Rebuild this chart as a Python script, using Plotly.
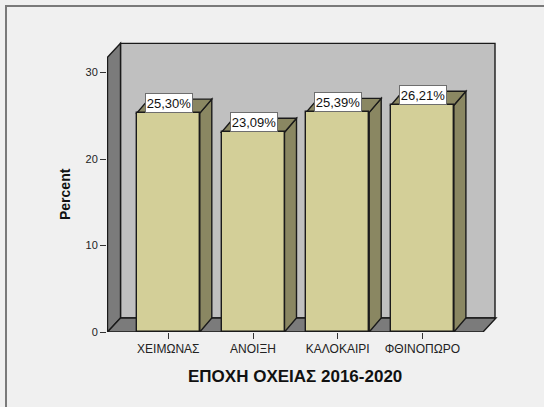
import plotly.graph_objects as go

# Seasonal share of cases, 2016-2020
categories = ["ΧΕΙΜΩΝΑΣ", "ΑΝΟΙΞΗ", "ΚΑΛΟΚΑΙΡΙ", "ΦΘΙΝΟΠΩΡΟ"]
percent = [25.30, 23.09, 25.39, 26.21]
labels = ["25,30%", "23,09%", "25,39%", "26,21%"]
y_ticks = [0, 10, 20, 30]

W, H = 544, 407
# plot area in pixels (axes sit on the left and bottom edges)
L, R, T, B = 107, 505, 36, 332
PX_PER_CAT = 84.7
PX_PER_UNIT = 8.65
FIRST_CAT_PX = 168.3


def cat_at(px):
    return (px - FIRST_CAT_PX) / PX_PER_CAT


x_min = cat_at(L)
x_max = cat_at(R)
y_max = (B - T) / PX_PER_UNIT

# depth of the 3D effect in data units
wall_dx = 13 / PX_PER_CAT
wall_dy = 14 / PX_PER_UNIT
bar_dx = 12 / PX_PER_CAT
bar_dy = 14 / PX_PER_UNIT
bar_w = 63 / PX_PER_CAT
wall_h = 31.75
wall_left = cat_at(107.5)
floor_right = cat_at(483)
back_right = cat_at(495)

BAR_FACE = "#D3CF98"
BAR_SHADE = "#8A8762"
BACK_WALL = "#C0C0C0"
SIDE_WALL = "#7B7B7B"
EDGE = "#1A1A1A"
EDGE_W = 1.4


def poly(pts):
    return "M " + " L ".join(f"{x},{y}" for x, y in pts) + " Z"


def px_x(px):
    return (px - L) / (R - L)


def px_y(py):
    return (B - py) / (B - T)


shapes = []
# frame around the chart
shapes.append(dict(type="rect", xref="paper", yref="paper",
                   x0=px_x(6), x1=px_x(600), y0=px_y(450), y1=px_y(6),
                   line=dict(color="#7A7A7A", width=2), fillcolor="rgba(0,0,0,0)",
                   layer="below"))
# back wall
shapes.append(dict(type="path", xref="x", yref="y", layer="below",
                   path=poly([(wall_left + wall_dx, wall_dy), (back_right, wall_dy),
                              (back_right, wall_h + wall_dy), (wall_left + wall_dx, wall_h + wall_dy)]),
                   fillcolor=BACK_WALL, line=dict(color=EDGE, width=EDGE_W)))
# left wall
shapes.append(dict(type="path", xref="x", yref="y", layer="below",
                   path=poly([(wall_left, 0), (wall_left, wall_h), (wall_left + wall_dx, wall_h + wall_dy),
                              (wall_left + wall_dx, wall_dy)]),
                   fillcolor=SIDE_WALL, line=dict(color=EDGE, width=EDGE_W)))
# floor
shapes.append(dict(type="path", xref="x", yref="y", layer="below",
                   path=poly([(wall_left, 0), (floor_right, 0), (floor_right + wall_dx, wall_dy),
                              (wall_left + wall_dx, wall_dy)]),
                   fillcolor=SIDE_WALL, line=dict(color=EDGE, width=EDGE_W)))

# top and side faces of every bar
for i, v in enumerate(percent):
    xl, xr = i - bar_w / 2, i + bar_w / 2
    shapes.append(dict(type="path", xref="x", yref="y", layer="below",
                       path=poly([(xr, 0), (xr, v), (xr + bar_dx, v + bar_dy), (xr + bar_dx, bar_dy)]),
                       fillcolor=BAR_SHADE, line=dict(color=EDGE, width=EDGE_W)))
    shapes.append(dict(type="path", xref="x", yref="y", layer="below",
                       path=poly([(xl, v), (xr, v), (xr + bar_dx, v + bar_dy), (xl + bar_dx, v + bar_dy)]),
                       fillcolor=BAR_SHADE, line=dict(color=EDGE, width=EDGE_W)))

fig = go.Figure()
fig.add_trace(go.Bar(
    x=list(range(len(categories))), y=percent, width=bar_w,
    marker=dict(color=BAR_FACE, line=dict(color=EDGE, width=EDGE_W)),
    hoverinfo="skip",
))

annotations = []
for i, (v, t) in enumerate(zip(percent, labels)):
    annotations.append(dict(
        x=i - bar_w / 2 + 8 / PX_PER_CAT, y=v, xref="x", yref="y",
        xanchor="left", yanchor="bottom", text=t, showarrow=False,
        font=dict(family="Arial, Liberation Sans", size=13, color="#111111"),
        bgcolor="white", bordercolor="#6E6E6E", borderwidth=1, borderpad=1,
        width=44, height=16,
    ))

annotations.append(dict(
    x=px_x(294.5), y=px_y(376.5), xref="paper", yref="paper",
    xanchor="center", yanchor="middle",
    text="<b>ΕΠΟΧΗ ΟΧΕΙΑΣ 2016-2020</b>", showarrow=False,
    font=dict(family="Arial, Liberation Sans", size=17, color="#111111"),
))
annotations.append(dict(
    x=px_x(65), y=px_y(194), xref="paper", yref="paper",
    xanchor="center", yanchor="middle",
    text="<b>Percent</b>", showarrow=False, textangle=-90,
    font=dict(family="Arial, Liberation Sans", size=14, color="#111111"),
))

fig.update_layout(
    width=W, height=H,
    margin=dict(l=L, r=W - R, t=T, b=H - B, pad=0),
    paper_bgcolor="#F0F0F0", plot_bgcolor="rgba(0,0,0,0)",
    showlegend=False, shapes=shapes, annotations=annotations,
    bargap=0,
    xaxis=dict(range=[x_min, x_max], tickvals=list(range(len(categories))),
               ticktext=categories, showgrid=False, zeroline=False, showline=False,
               ticks="outside", ticklen=6, tickcolor="#333333", tickwidth=1,
               tickfont=dict(family="Arial, Liberation Sans", size=12, color="#222222"),
               fixedrange=True),
    yaxis=dict(range=[0, y_max], tickvals=y_ticks, showgrid=False, zeroline=False,
               showline=False,
               ticks="outside", ticklen=6, tickcolor="#333333", tickwidth=1,
               tickfont=dict(family="Arial, Liberation Sans", size=11, color="#222222"),
               fixedrange=True),
)

fig.write_html("out.html")
